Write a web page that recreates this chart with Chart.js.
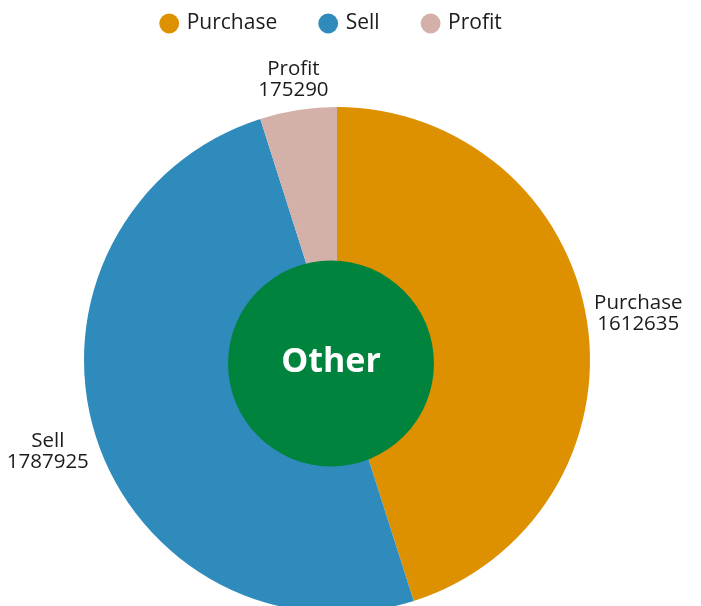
<!DOCTYPE html>
<html>
<head>
<meta charset="utf-8">
<script src="https://cdn.jsdelivr.net/npm/chart.js@4"></script>
<style>
  html, body { margin: 0; padding: 0; background: #fff; overflow: hidden; }
  #wrap { position: relative; width: 701px; height: 676px; }
</style>
</head>
<body>
<div id="wrap"><canvas id="c"></canvas></div>
<script>
const categories = ["Purchase", "Sell", "Profit"];
const values = [1612635, 1787925, 175290];
const colors = ["#DD9100", "#2E8BBB", "#D3B0A8"];
const centerLabel = "Other";
const centerColor = "#00843D";
const textColor = "#1c1c1c";
const fontFamily = "'Open Sans', 'Noto Sans', sans-serif";

const outsideLabels = {
  id: 'outsideLabels',
  afterDatasetsDraw(chart) {
    const ctx = chart.ctx;
    const meta = chart.getDatasetMeta(0);
    const lineH = 21;
    ctx.save();
    ctx.font = "20.5px " + fontFamily;
    ctx.fillStyle = textColor;
    ctx.textAlign = 'center';
    ctx.textBaseline = 'middle';
    meta.data.forEach((arc, i) => {
      const p = arc.getProps(['x', 'y', 'startAngle', 'endAngle', 'outerRadius'], true);
      const mid = (p.startAngle + p.endAngle) / 2;
      const dx = Math.cos(mid), dy = Math.sin(mid);
      const lines = [categories[i], String(chart.data.datasets[0].data[i])];
      const w = Math.max(...lines.map(t => ctx.measureText(t).width));
      const h = lines.length * lineH;
      const d = p.outerRadius + 5 + Math.abs(dx) * w / 2 + Math.abs(dy) * h / 2;
      const cx = p.x + dx * d, cy = p.y + dy * d;
      lines.forEach((t, k) => {
        ctx.fillText(t, cx, cy - h / 2 + lineH * (k + 0.5));
      });
    });
    // centre disc
    const a0 = meta.data[0];
    const R = a0.outerRadius;
    const gx = a0.x - 6, gy = a0.y + 3.5;
    ctx.beginPath();
    ctx.arc(gx, gy, R * 0.407, 0, Math.PI * 2);
    ctx.fillStyle = centerColor;
    ctx.fill();
    ctx.fillStyle = '#ffffff';
    ctx.font = "bold 34px " + fontFamily;
    ctx.fillText(centerLabel, gx, gy - 1.5);
    ctx.restore();
  }
};

const legendShift = {
  id: 'legendShift',
  afterLayout(chart) {
    if (chart.legend) { chart.legend.left -= 5; chart.legend.right -= 5; }
  }
};

new Chart(document.getElementById('c'), {
  type: 'pie',
  data: {
    labels: categories,
    datasets: [{
      data: values,
      backgroundColor: colors,
      borderWidth: 0,
      hoverOffset: 0
    }]
  },
  options: {
    responsive: true,
    maintainAspectRatio: false,
    animation: false,
    layout: { padding: { left: 84, right: 111, top: -31, bottom: 0 } },
    plugins: {
      legend: {
        position: 'top',
        labels: {
          usePointStyle: true,
          pointStyle: 'circle',
          boxWidth: 14,
          boxHeight: 14,
          padding: 44,
          color: textColor,
          font: { family: fontFamily, size: 21 }
        }
      },
      tooltip: { enabled: false }
    }
  },
  plugins: [outsideLabels, legendShift]
});
</script>
</body>
</html>
